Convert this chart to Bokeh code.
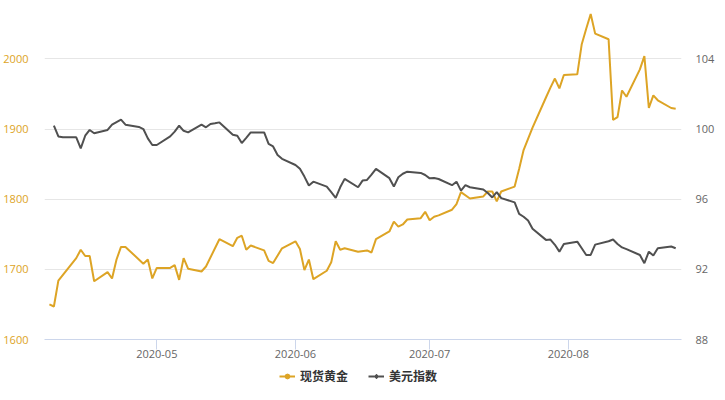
import numpy as np
import pandas as pd
from bokeh.plotting import figure
from bokeh.layouts import column
from bokeh.models import (Range1d, LinearAxis, FixedTicker, DatetimeTickFormatter,
                          Legend, LegendItem, ColumnDataSource)
from bokeh.embed import file_html
from bokeh.resources import INLINE

# ---------------- data ----------------
gold_dates = ["2020-04-07", "2020-04-08", "2020-04-09", "2020-04-13", "2020-04-14", "2020-04-15",
              "2020-04-16", "2020-04-17", "2020-04-20", "2020-04-21", "2020-04-22", "2020-04-23",
              "2020-04-24", "2020-04-28", "2020-04-29", "2020-04-30", "2020-05-01", "2020-05-04",
              "2020-05-05", "2020-05-06", "2020-05-07", "2020-05-08", "2020-05-11", "2020-05-12",
              "2020-05-15", "2020-05-18", "2020-05-19", "2020-05-20", "2020-05-21", "2020-05-22",
              "2020-05-25", "2020-05-26", "2020-05-27", "2020-05-29", "2020-06-01", "2020-06-02",
              "2020-06-03", "2020-06-04", "2020-06-05", "2020-06-08", "2020-06-09", "2020-06-10",
              "2020-06-11", "2020-06-12", "2020-06-15", "2020-06-17", "2020-06-18", "2020-06-19",
              "2020-06-22", "2020-06-23", "2020-06-24", "2020-06-25", "2020-06-26", "2020-06-29",
              "2020-06-30", "2020-07-01", "2020-07-02", "2020-07-03", "2020-07-06", "2020-07-07",
              "2020-07-08", "2020-07-10", "2020-07-13", "2020-07-14", "2020-07-15", "2020-07-16",
              "2020-07-17", "2020-07-20", "2020-07-21", "2020-07-22", "2020-07-23", "2020-07-24",
              "2020-07-27", "2020-07-28", "2020-07-29", "2020-07-30", "2020-07-31", "2020-08-03",
              "2020-08-04", "2020-08-05", "2020-08-06", "2020-08-07", "2020-08-10", "2020-08-11",
              "2020-08-12", "2020-08-13", "2020-08-14", "2020-08-17", "2020-08-18", "2020-08-19",
              "2020-08-20", "2020-08-21", "2020-08-24", "2020-08-25"]
gold_values = [1650, 1647, 1684, 1716, 1728, 1719,
               1719, 1683, 1696, 1687, 1714, 1732,
               1732, 1708, 1714, 1687, 1702, 1702,
               1706, 1685, 1716, 1701, 1697, 1704,
               1743, 1733, 1745, 1748, 1728, 1734,
               1727, 1712, 1709, 1730, 1740, 1729,
               1699, 1714, 1686, 1698, 1710, 1740,
               1728, 1730, 1725, 1727, 1724, 1743,
               1754, 1768, 1761, 1764, 1771, 1773,
               1782, 1770, 1775, 1777, 1785, 1793,
               1810, 1801, 1804, 1811, 1811, 1797,
               1811, 1818, 1843, 1870, 1886, 1902,
               1945, 1959, 1972, 1958, 1977, 1978,
               2021, 2043, 2064, 2036, 2028, 1913,
               1917, 1955, 1946, 1985, 2004, 1930,
               1948, 1941, 1930, 1929]

usd_dates = ["2020-04-08", "2020-04-09", "2020-04-10", "2020-04-13", "2020-04-14", "2020-04-15",
             "2020-04-16", "2020-04-17", "2020-04-20", "2020-04-21", "2020-04-22", "2020-04-23",
             "2020-04-24", "2020-04-27", "2020-04-28", "2020-04-29", "2020-04-30", "2020-05-01",
             "2020-05-04", "2020-05-05", "2020-05-06", "2020-05-07", "2020-05-08", "2020-05-11",
             "2020-05-12", "2020-05-13", "2020-05-14", "2020-05-15", "2020-05-18", "2020-05-19",
             "2020-05-20", "2020-05-21", "2020-05-22", "2020-05-25", "2020-05-26", "2020-05-27",
             "2020-05-28", "2020-05-29", "2020-06-01", "2020-06-02", "2020-06-03", "2020-06-04",
             "2020-06-05", "2020-06-08", "2020-06-09", "2020-06-10", "2020-06-11", "2020-06-12",
             "2020-06-15", "2020-06-16", "2020-06-17", "2020-06-18", "2020-06-19", "2020-06-22",
             "2020-06-23", "2020-06-24", "2020-06-25", "2020-06-26", "2020-06-29", "2020-06-30",
             "2020-07-01", "2020-07-02", "2020-07-03", "2020-07-06", "2020-07-07", "2020-07-08",
             "2020-07-09", "2020-07-10", "2020-07-13", "2020-07-14", "2020-07-15", "2020-07-16",
             "2020-07-17", "2020-07-20", "2020-07-21", "2020-07-22", "2020-07-23", "2020-07-24",
             "2020-07-27", "2020-07-28", "2020-07-29", "2020-07-30", "2020-07-31", "2020-08-03",
             "2020-08-04", "2020-08-05", "2020-08-06", "2020-08-07", "2020-08-10", "2020-08-11",
             "2020-08-12", "2020-08-13", "2020-08-14", "2020-08-17", "2020-08-18", "2020-08-19",
             "2020-08-20", "2020-08-21", "2020-08-24", "2020-08-25"]
usd_values = [100.19, 99.58, 99.53, 99.53, 98.90, 99.62,
              99.95, 99.76, 99.95, 100.25, 100.40, 100.54,
              100.25, 100.12, 100.00, 99.47, 99.09, 99.09,
              99.58, 99.85, 100.19, 99.90, 99.81, 100.25,
              100.10, 100.29, 100.33, 100.38, 99.68, 99.62,
              99.20, 99.50, 99.81, 99.81, 99.15, 99.01,
              98.52, 98.30, 97.95, 97.73, 97.29, 96.78,
              97.00, 96.72, 96.40, 96.07, 96.68, 97.16,
              96.68, 97.06, 97.10, 97.40, 97.73, 97.20,
              96.72, 97.25, 97.45, 97.57, 97.50, 97.38,
              97.19, 97.21, 97.15, 96.80, 97.00, 96.49,
              96.80, 96.68, 96.55, 96.35, 96.10, 96.40,
              96.06, 95.82, 95.16, 95.00, 94.78, 94.31,
              93.68, 93.70, 93.40, 93.01, 93.45, 93.58,
              93.20, 92.82, 92.82, 93.41, 93.60, 93.70,
              93.45, 93.25, 93.15, 92.82, 92.35, 93.01,
              92.79, 93.20, 93.30, 93.20]

gold_ticks = [1600, 1700, 1800, 1900, 2000]
usd_ticks = [88, 92, 96, 100, 104]
x_tick_labels = ["2020-05", "2020-06", "2020-07", "2020-08"]
series_names = ["现货黄金", "美元指数"]

GOLD = "#DDA425"
USD = "#505050"

# ---------------- helpers ----------------
def to_ms(s):
    return pd.Timestamp(s).value / 1e6

gold_src = ColumnDataSource(dict(x=pd.to_datetime(gold_dates), y=gold_values))
usd_src = ColumnDataSource(dict(x=pd.to_datetime(usd_dates), y=usd_values))

month_ms = [to_ms(t + "-01") for t in x_tick_labels]
day_ms = 86400000.0
x_start = month_ms[0] - 25.1 * day_ms
x_end = month_ms[0] + 117.3 * day_ms

W = 717
p = figure(width=W, height=365, x_axis_type="datetime",
           output_backend="svg", toolbar_location=None,
           x_range=Range1d(x_start, x_end), y_range=Range1d(1600, 2069),
           min_border_left=43, min_border_right=33, min_border_top=10, min_border_bottom=26)
p.outline_line_color = None
p.background_fill_color = "white"
p.border_fill_color = "white"
p.extra_y_ranges = {"usd": Range1d(88, 88 + (2069 - 1600) / 25.0)}

# grid
p.xgrid.grid_line_color = None
p.ygrid.grid_line_color = "#e6e6e6"
p.ygrid.grid_line_width = 1

# left axis
ya = p.yaxis[0]
ya.ticker = FixedTicker(ticks=gold_ticks)
ya.axis_line_color = None
ya.major_tick_line_color = None
ya.minor_tick_line_color = None
ya.major_tick_out = 0
ya.major_tick_in = 0
ya.major_label_text_color = GOLD
ya.major_label_text_font = "Open Sans"
ya.major_label_text_font_size = "11px"
ya.major_label_standoff = 16

# right axis
ra = LinearAxis(y_range_name="usd", ticker=FixedTicker(ticks=usd_ticks))
ra.axis_line_color = None
ra.major_tick_line_color = None
ra.minor_tick_line_color = None
ra.major_tick_out = 0
ra.major_tick_in = 0
ra.major_label_text_color = "#666666"
ra.major_label_text_font = "Open Sans"
ra.major_label_text_font_size = "11px"
ra.major_label_standoff = 14
p.add_layout(ra, "right")

# x axis
xa = p.xaxis[0]
xa.ticker = FixedTicker(ticks=month_ms)
fmt = "%Y-%m"
xa.formatter = DatetimeTickFormatter(milliseconds=fmt, seconds=fmt, minsec=fmt, minutes=fmt,
                                     hourmin=fmt, hours=fmt, days=fmt, months=fmt, years=fmt)
xa.axis_line_color = "#ccd6eb"
xa.major_tick_line_color = "#ccd6eb"
xa.minor_tick_line_color = None
xa.major_tick_out = 10
xa.major_tick_in = 0
xa.major_label_text_color = "#666666"
xa.major_label_text_font = "Open Sans"
xa.major_label_text_font_size = "11px"
xa.major_label_standoff = 0

# lines
p.line("x", "y", source=gold_src, line_color=GOLD, line_width=2)
p.line("x", "y", source=usd_src, line_color=USD, line_width=2, y_range_name="usd")

# ---------------- legend strip ----------------
lf = figure(width=W, height=19, output_backend="svg", toolbar_location=None,
            x_range=Range1d(0, 1), y_range=Range1d(0, 1),
            x_axis_location=None, y_axis_location=None,
            min_border_left=0, min_border_right=0, min_border_top=0, min_border_bottom=0)
lf.outline_line_color = None
lf.xgrid.grid_line_color = None
lf.ygrid.grid_line_color = None
lf.border_fill_color = "white"

nan = [np.nan]
gl = lf.line(x=nan, y=nan, line_color=GOLD, line_width=2)
gs = lf.scatter(x=nan, y=nan, marker="circle", size=8, fill_color=GOLD, line_color=GOLD)
ul = lf.line(x=nan, y=nan, line_color=USD, line_width=2)
us = lf.scatter(x=nan, y=nan, marker="diamond", size=11, fill_color=USD, line_color=USD)

legend = Legend(items=[LegendItem(label=series_names[0], renderers=[gl, gs]),
                       LegendItem(label=series_names[1], renderers=[ul, us])],
                location=(235, 0), orientation="horizontal")
legend.border_line_color = None
legend.background_fill_alpha = 0
legend.padding = 0
legend.margin = 0
legend.spacing = 20
legend.glyph_width = 16
legend.glyph_height = 12
legend.label_height = 12
legend.label_standoff = 5
legend.label_text_font = "Noto Sans CJK SC"
legend.label_text_font_size = "12px"
legend.label_text_font_style = "bold"
legend.label_text_color = "#333333"
lf.add_layout(legend)

open("out.html", "w").write(file_html(column(p, lf, spacing=0), INLINE))
